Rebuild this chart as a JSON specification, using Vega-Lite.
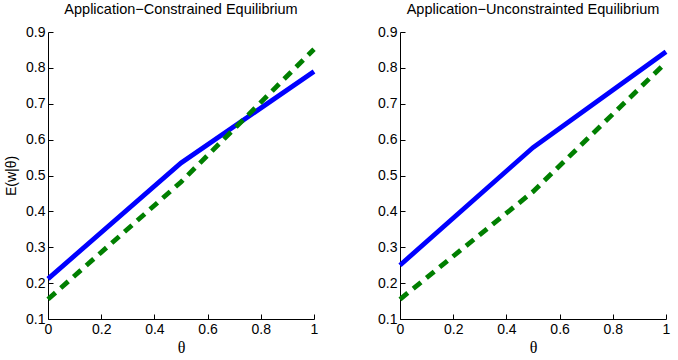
{
  "$schema": "https://vega.github.io/schema/vega-lite/v6.json",
  "background": "white",
  "padding": {"left": 4, "top": 1, "right": 8, "bottom": 4},
  "datasets": {
    "wages": [
      {"panel": "constrained", "series": "blue", "theta": 0, "value": 0.212},
      {"panel": "constrained", "series": "blue", "theta": 0.5, "value": 0.535},
      {"panel": "constrained", "series": "blue", "theta": 1, "value": 0.79},
      {"panel": "constrained", "series": "green", "theta": 0, "value": 0.155},
      {"panel": "constrained", "series": "green", "theta": 0.5, "value": 0.482},
      {"panel": "constrained", "series": "green", "theta": 1, "value": 0.852},
      {"panel": "unconstrained", "series": "blue", "theta": 0, "value": 0.25},
      {"panel": "unconstrained", "series": "blue", "theta": 0.5, "value": 0.578},
      {"panel": "unconstrained", "series": "blue", "theta": 1, "value": 0.845},
      {"panel": "unconstrained", "series": "green", "theta": 0, "value": 0.155},
      {"panel": "unconstrained", "series": "green", "theta": 0.5, "value": 0.455},
      {"panel": "unconstrained", "series": "green", "theta": 1, "value": 0.815}
    ]
  },
  "config": {
    "view": {"stroke": null},
    "font": "Liberation Sans",
    "title": {"fontSize": 14.5, "fontWeight": "normal", "color": "#000", "offset": 8, "font": "Liberation Sans"},
    "axis": {
      "domainColor": "#000",
      "domainWidth": 1,
      "tickColor": "#000",
      "tickSize": -5,
      "labelPadding": 8,
      "labelFontSize": 14,
      "labelColor": "#000",
      "labelFont": "Liberation Sans",
      "grid": false,
      "titleFontWeight": "normal",
      "titleColor": "#000"
    },
    "concat": {"spacing": 53}
  },
  "hconcat": [
    {
      "width": 266,
      "height": 287,
      "title": "Application\u2212Constrained Equilibrium",
      "data": {"name": "wages"},
      "transform": [{"filter": "datum.panel === 'constrained'"}],
      "encoding": {
        "x": {"field": "theta", "type": "quantitative",
              "scale": {"domain": [0, 1], "nice": false},
              "axis": {"title": "θ", "titleFont": "Liberation Serif", "titleFontSize": 16, "titlePadding": 3,
                       "values": [0, 0.2, 0.4, 0.6, 0.8, 1], "format": "~g", "labelFlush": false}},
        "y": {"field": "value", "type": "quantitative",
              "scale": {"domain": [0.1, 0.9], "nice": false, "zero": false},
              "axis": {"title": "E(w|θ)", "titleFontSize": 14, "titlePadding": 7,
                       "values": [0.1, 0.2, 0.3, 0.4, 0.5, 0.6, 0.7, 0.8, 0.9], "format": ".1f"}}
      },
      "layer": [
        {"transform": [{"filter": "datum.series === 'blue'"}],
         "mark": {"type": "line", "color": "#0000ff", "strokeWidth": 4.8, "strokeCap": "butt"}},
        {"transform": [{"filter": "datum.series === 'green'"}],
         "mark": {"type": "line", "color": "#007f00", "strokeWidth": 4.8, "strokeDash": [10, 7], "strokeCap": "butt"}}
      ]
    },
    {
      "width": 266,
      "height": 287,
      "title": "Application\u2212Unconstrainted Equilibrium",
      "data": {"name": "wages"},
      "transform": [{"filter": "datum.panel === 'unconstrained'"}],
      "encoding": {
        "x": {"field": "theta", "type": "quantitative",
              "scale": {"domain": [0, 1], "nice": false},
              "axis": {"title": "θ", "titleFont": "Liberation Serif", "titleFontSize": 16, "titlePadding": 3,
                       "values": [0, 0.2, 0.4, 0.6, 0.8, 1], "format": "~g", "labelFlush": false}},
        "y": {"field": "value", "type": "quantitative",
              "scale": {"domain": [0.1, 0.9], "nice": false, "zero": false},
              "axis": {"title": null,
                       "values": [0.1, 0.2, 0.3, 0.4, 0.5, 0.6, 0.7, 0.8, 0.9], "format": ".1f"}}
      },
      "layer": [
        {"transform": [{"filter": "datum.series === 'blue'"}],
         "mark": {"type": "line", "color": "#0000ff", "strokeWidth": 4.8, "strokeCap": "butt"}},
        {"transform": [{"filter": "datum.series === 'green'"}],
         "mark": {"type": "line", "color": "#007f00", "strokeWidth": 4.8, "strokeDash": [10, 7], "strokeCap": "butt"}}
      ]
    }
  ]
}
